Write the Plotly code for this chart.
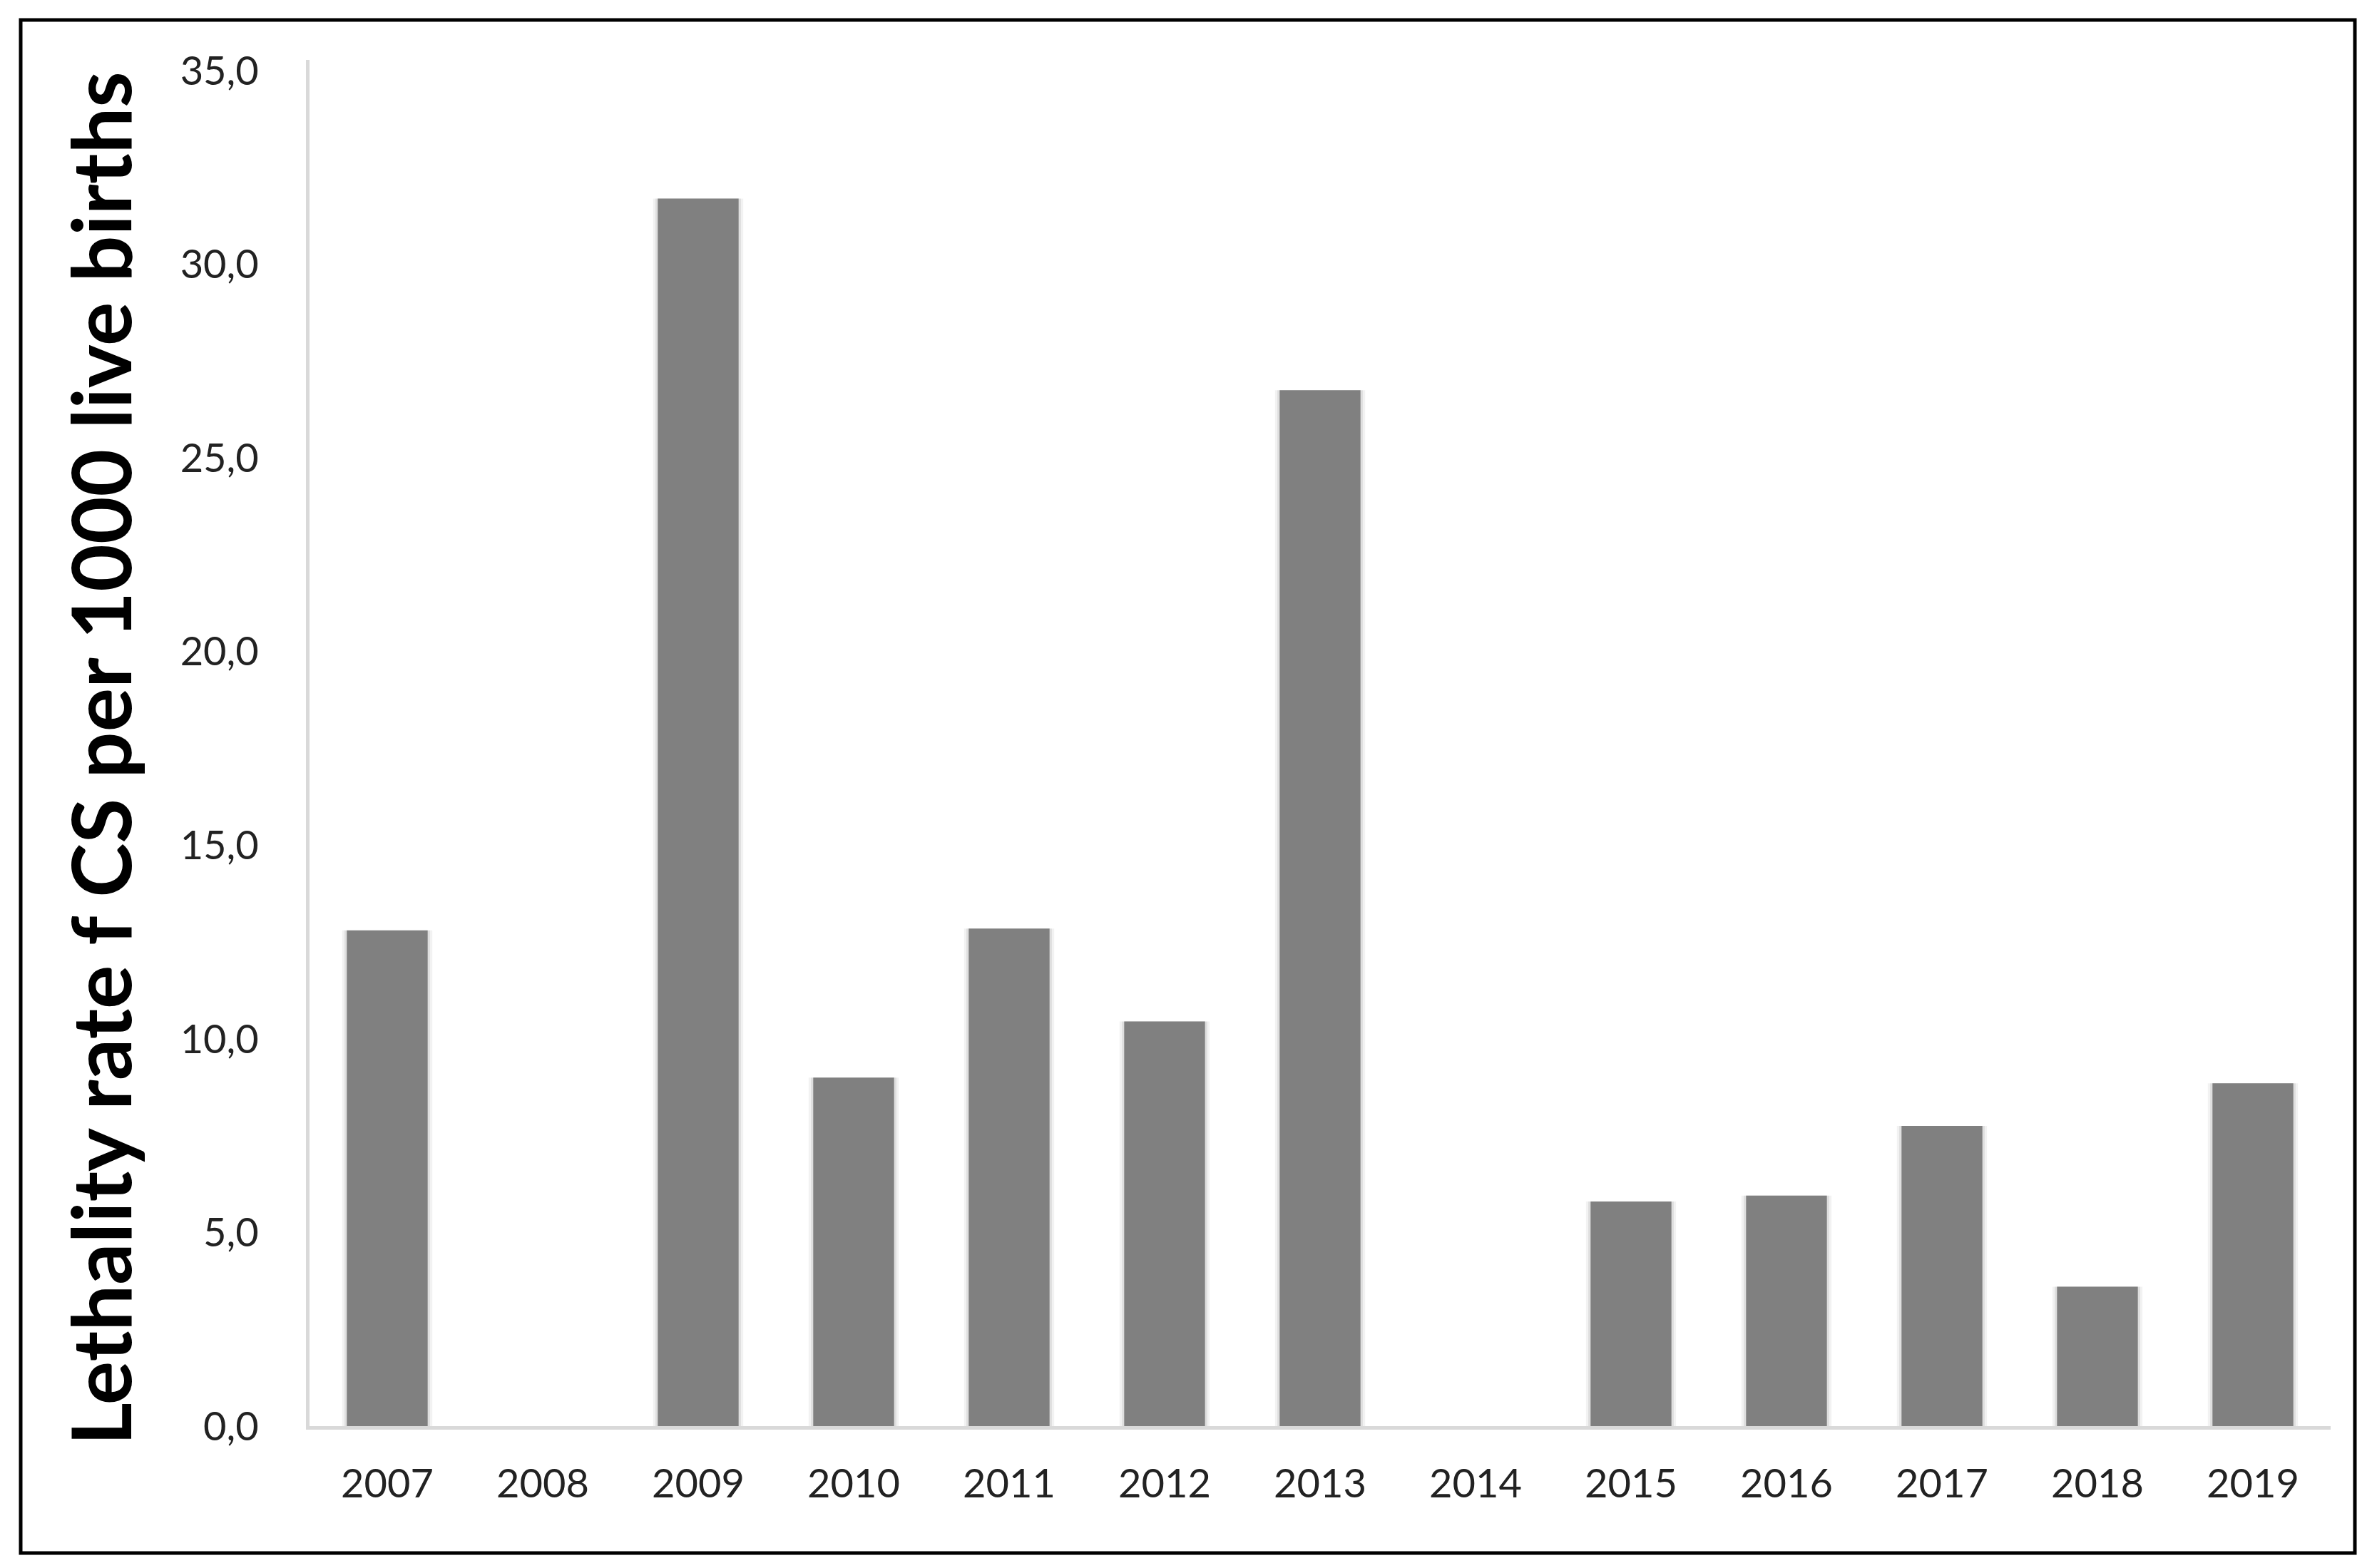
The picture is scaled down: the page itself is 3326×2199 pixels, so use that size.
import plotly.graph_objects as go

years = ["2007", "2008", "2009", "2010", "2011", "2012", "2013",
         "2014", "2015", "2016", "2017", "2018", "2019"]
rates = [12.8, 0.0, 31.7, 9.0, 12.85, 10.45, 26.75,
         0.0, 5.8, 5.95, 7.75, 3.6, 8.85]
y_ticks = [0, 5, 10, 15, 20, 25, 30, 35]
y_tick_labels = ["0,0", "5,0", "10,0", "15,0", "20,0", "25,0", "30,0", "35,0"]
y_title = "Lethality rate f CS per 1000 live births"

W, H = 3326, 2199
L, R, T, B = 426, 3260, 76, 1992  # plot area in px
pw, ph = R - L, B - T

def px_x(p):
    return (p - L) / pw

def px_y(p):
    return (B - p) / ph

tick_font = dict(family="Lato, Arial", size=56, color="#222222")

fig = go.Figure()
# soft shadow halos around bars
for w, a in [(0.58, 0.05), (0.55, 0.08)]:
    fig.add_trace(go.Bar(
        x=years, y=rates, width=w,
        marker=dict(color=f"rgba(0,0,0,{a})", line=dict(width=0)),
        hoverinfo="skip",
    ))
fig.add_trace(go.Bar(
    x=years, y=rates,
    marker=dict(color="#808080", line=dict(width=0)),
    width=0.52,
    hoverinfo="x+y",
))

fig.update_layout(
    width=W, height=H,
    margin=dict(l=L, r=W - R, t=T, b=H - B),
    paper_bgcolor="white", plot_bgcolor="white",
    showlegend=False,
    barmode="overlay",
    xaxis=dict(
        type="category",
        showline=True, linecolor="#d9d9d9", linewidth=5,
        showgrid=False, zeroline=False, ticks="",
        tickfont=tick_font, ticklabelstandoff=28,
    ),
    yaxis=dict(
        range=[0, 35.28],
        tickvals=y_ticks, ticktext=y_tick_labels,
        showline=True, linecolor="#d9d9d9", linewidth=5,
        showgrid=False, zeroline=False, ticks="",
        tickfont=tick_font, ticklabelstandoff=55,
    ),
    annotations=[dict(
        text="<b>" + y_title + "</b>",
        textangle=-90,
        x=px_x(131), y=px_y(1056),
        xref="paper", yref="paper",
        xanchor="center", yanchor="middle",
        showarrow=False,
        font=dict(family="Lato, Arial", size=115, color="black"),
    )],
    shapes=[dict(
        type="rect", xref="paper", yref="paper",
        x0=px_x(21), x1=px_x(3294), y0=px_y(2170), y1=px_y(20),
        line=dict(color="black", width=5), fillcolor="rgba(0,0,0,0)",
        layer="above",
    )],
)

fig.write_html("out.html")
